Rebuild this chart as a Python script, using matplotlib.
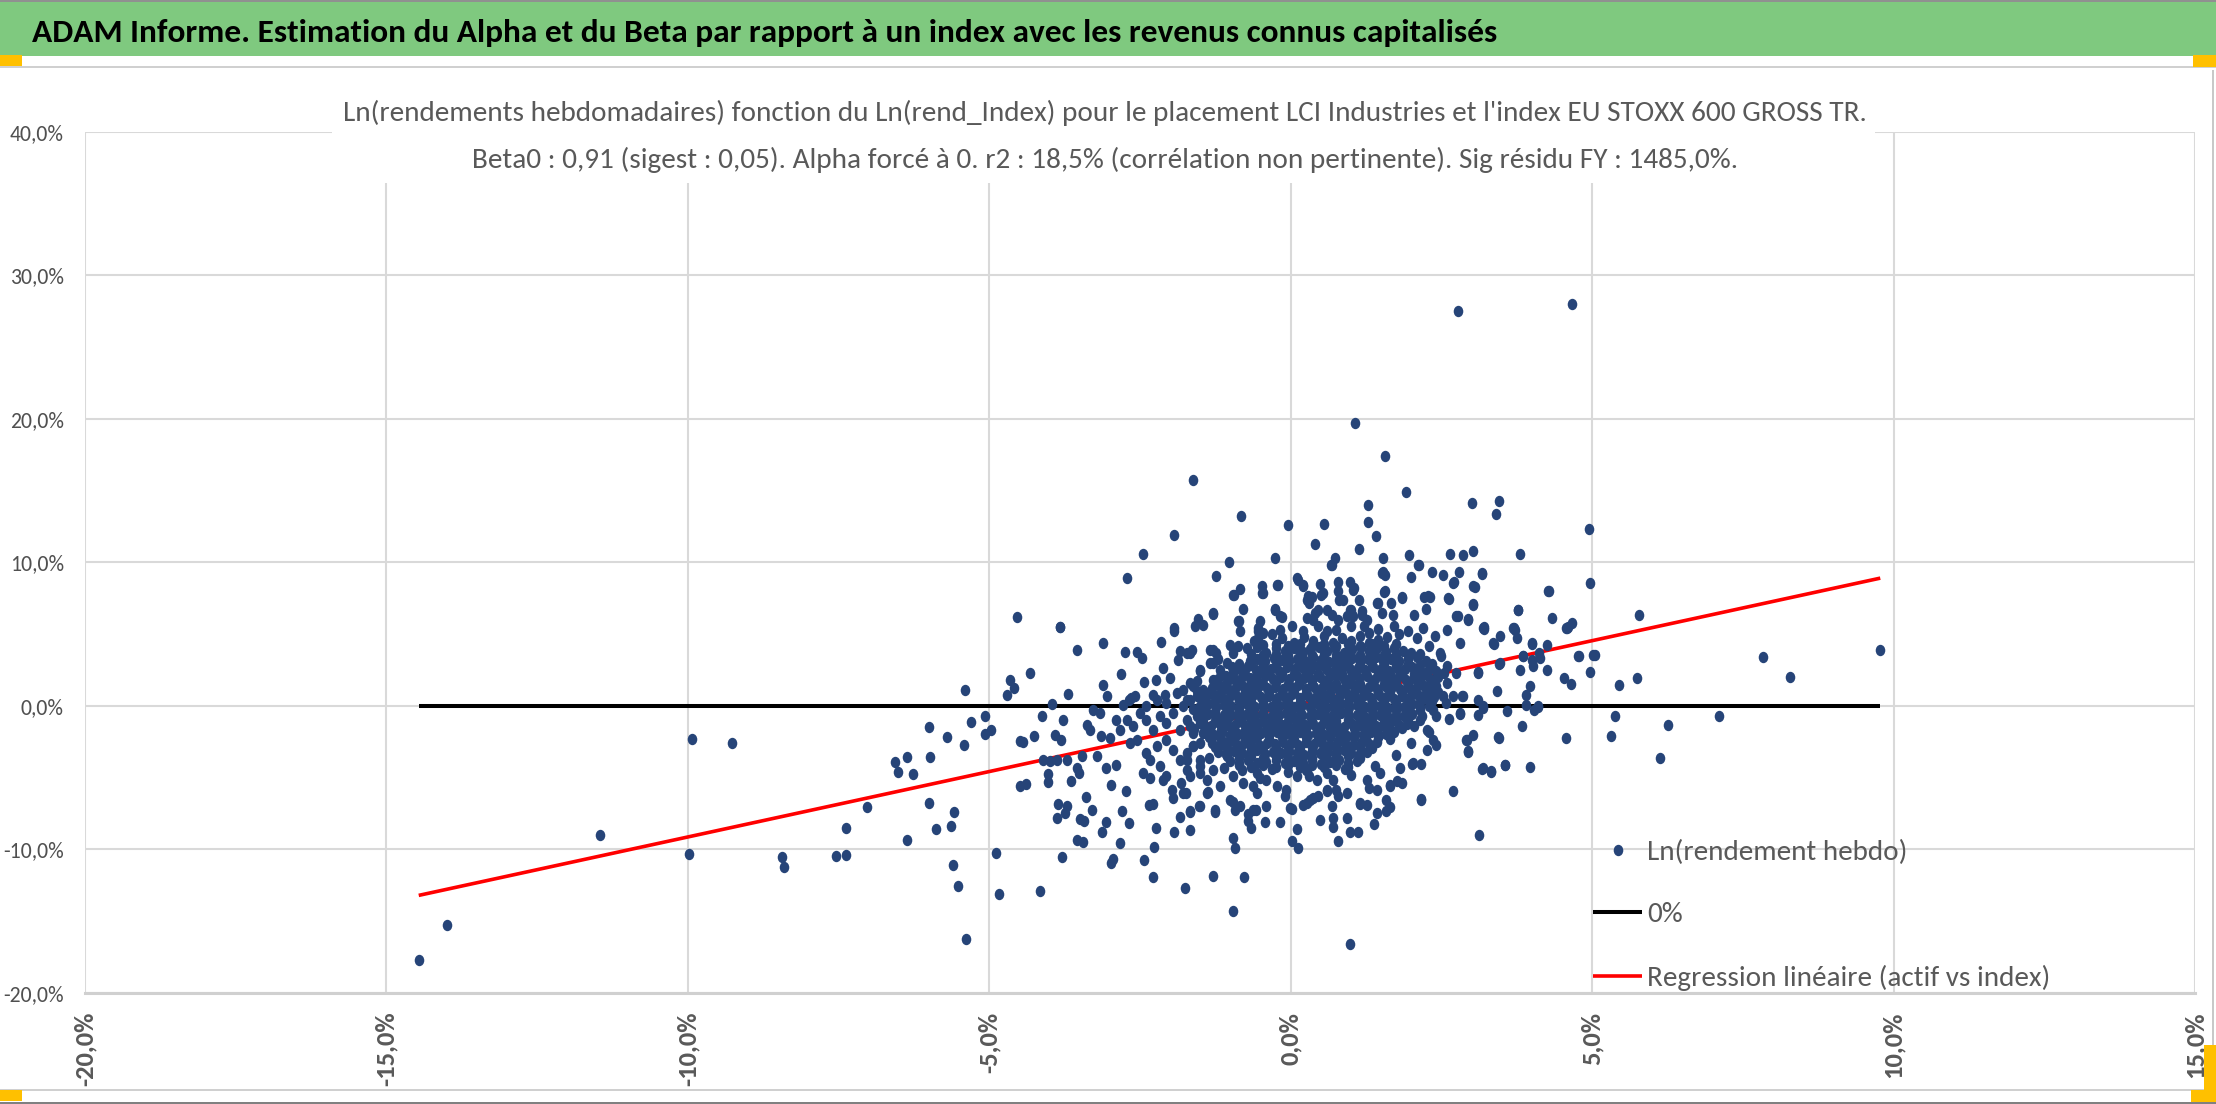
import numpy as np
import matplotlib
matplotlib.use('Agg')
from matplotlib import pyplot as plt
from matplotlib import font_manager as fm
from matplotlib.patches import Rectangle
from matplotlib.lines import Line2D
from matplotlib.path import Path
from matplotlib.transforms import Affine2D
from matplotlib.ticker import FuncFormatter, MultipleLocator

# ---- texts ----
header = "ADAM Informe. Estimation du Alpha et du Beta par rapport à un index avec les revenus connus capitalisés"
title1 = "Ln(rendements hebdomadaires) fonction du Ln(rend_Index) pour le placement LCI Industries et l'index EU STOXX 600 GROSS TR."
title2 = "Beta0 : 0,91 (sigest : 0,05). Alpha forcé à 0. r2 : 18,5% (corrélation non pertinente). Sig résidu FY : 1485,0%."
legend_labels = ["Ln(rendement hebdo)", "0%", "Regression linéaire (actif vs index)"]

# ---- series (x = Ln(rend_Index) %, y = Ln(rendement hebdo) %) ----
zero_x = [-14.46, 9.78]
zero_y = [0.0, 0.0]
reg_x = [-14.46, 9.78]
reg_y = [-13.2, 8.9]

# isolated points, far left / far out
far_pts = [(-14.46,-17.67),(-13.99,-15.28),(-11.45,-8.97),(-9.97,-10.34),(-9.93,-2.28),(-9.27,-2.58),
    (-8.44,-10.55),(-8.40,-11.2),(-7.54,-10.48),(-7.37,-10.41),(-7.37,-8.5),(-7.03,-7.07),(-6.56,-3.89),
    (-6.37,-3.56),(-6.51,-4.6),(-6.27,-4.77),(-6.0,-1.47),(-5.98,-3.56),(-6.0,-6.76),(-6.36,-9.32),
    (-5.88,-8.58),(-5.70,-2.19),(-5.63,-8.34),(-5.59,-7.39),(-5.60,-11.06),(-5.51,-12.57),(-5.39,-16.23),
    (-5.40,1.08),(-5.41,-2.75),(-5.30,-1.1),(-5.07,-0.73),(-5.06,-1.98),(-4.97,-1.68),(-4.88,-10.25),
    (-4.83,-13.1),(-4.65,1.78),(-4.59,1.25),(-4.70,0.78),(-4.53,6.19),(-4.49,-2.47),(-4.49,-5.6),
    (2.77,27.5),(4.67,28.0),(1.07,19.7),(1.56,17.4),(-1.62,15.75),(1.92,14.9),(1.29,14.0),(1.29,12.8),
    (1.41,11.85),(-0.82,13.2),(-1.93,11.9),(-2.44,10.6),(-2.72,8.9),(-3.83,5.5),(-0.04,12.6),(0.55,12.7),
    (0.40,11.3),(1.13,10.9),(0.74,10.3),(0.67,9.8),(-0.26,10.3),(-1.02,10.0),(-1.23,9.07),(3.01,14.15),
    (3.45,14.3),(3.40,13.4),(4.95,12.34),(3.81,10.58),(4.28,8.02),(4.96,8.58),(9.78,3.87),(7.84,3.38),
    (8.28,2.0),(7.11,-0.71),(6.26,-1.36),(6.12,-3.63),(5.74,1.94),(5.44,1.47),(5.38,-0.71),(5.32,-2.12),
    (5.78,6.33),(0.99,-16.56),(-0.96,-14.26),(-1.75,-12.68),(-1.28,-11.87),(-0.78,-11.94),(-2.28,-11.94),
    (-4.15,-12.91),(-3.79,-10.52),(-2.98,-10.94),(-2.95,-10.66),(-2.43,-10.71),(3.12,-8.99)]

# upper half of the cloud
upper_pts = [(1.54,10.3),(1.97,10.5),(2.13,9.8),(2.65,10.6),(2.86,10.5),(3.03,10.8),(1.53,9.3),(1.57,9.1),
    (2.34,9.3),(2.52,9.1),(2.80,9.3),(3.17,9.2),(2.0,9.0),(2.71,8.6),(3.06,8.25),(1.55,7.95),(0.12,8.8),
    (0.2,8.4),(0.49,8.5),(0.78,8.6),(0.98,8.65),(1.05,8.2),(-0.21,8.4),(-0.48,8.37),(-0.46,7.86),(-0.84,8.16),
    (-0.94,7.7),(-0.79,6.75),(-1.29,6.4),(-0.26,6.75),(-0.15,6.2),(-0.51,5.93),(-0.86,5.93),(-1.53,6.07),
    (-1.59,5.6),(-1.46,5.65),(-1.93,5.4),(1.85,7.56),(2.22,7.56),(2.31,7.6),(2.63,7.47),(3.03,7.1),(2.25,6.75),
    (2.04,6.35),(2.77,6.28),(2.95,6.05),(1.67,7.17),(1.44,7.17),(1.51,6.5),(1.70,6.35),(1.13,7.4),(0.78,7.97),
    (0.81,7.4),(0.51,7.7),(0.35,7.6),(0.28,7.4),(0.31,7.17),(0.46,6.7),(0.40,6.47),(0.6,6.7),(0.68,6.35),
    (0.79,6.0),(0.98,6.7),(1.04,6.23),(0.93,6.23),(1.18,6.35),(1.26,6.0),(0.27,6.12),(0.37,6.0),
    (0.1,8.9),(0.21,8.32),(0.29,7.63),(0.68,9.83),(0.54,7.86),(0.87,7.4),(1.04,8.09),(1.01,6.7),(1.18,6.58),
    (1.51,9.25),(1.56,7.97),(1.45,7.17),(1.84,7.51),(2.12,9.83),(2.28,7.63),(2.61,7.51),(2.7,8.56),
    (3.03,8.32),(3.17,9.25),(3.03,7.05),(-0.23,8.44),(-0.48,7.86),(-0.95,7.74),(-1.28,6.47),(-0.87,5.89),
    (-0.84,5.19),(-0.54,5.19),(-0.18,6.23),(-0.18,5.31),(-0.26,6.7),(-0.54,5.42),(-0.45,5.07),(0.03,5.54),
    (1.22,5.6),(1.45,5.35),(1.72,5.55),(1.95,5.2),(2.2,5.45),(2.4,4.9),(2.6,5.3),(2.1,4.7),(0.45,5.6),
    (0.75,5.3),(1.0,5.6),(0.2,5.2),(2.75,6.23),(2.95,6.0),(3.19,5.42),(3.69,5.42),(3.77,6.7),(4.27,7.97),
    (4.33,6.12),(4.58,5.42),(4.66,5.77),(3.77,6.65),(3.2,5.5),(3.71,5.42),(4.6,5.5),(4.57,5.42)]

# right of the cloud
right_pts = [(5.05,3.56),(4.96,2.36),(4.79,3.49),(4.56,-2.21),(4.53,1.94),(4.65,1.55),(4.26,4.26),
    (4.26,2.52),(4.12,3.68),(4.13,3.33),(4.01,4.33),(4.01,3.22),(4.02,2.75),(3.85,3.5),(3.80,2.52),(3.97,1.36),
    (3.91,0.78),(3.91,0.08),(4.10,-0.08),(4.03,-0.31),(3.83,-1.43),(3.97,-4.28),(3.56,-4.14),(3.32,-4.63),
    (3.19,-4.35),(3.46,-2.21),(3.59,-0.38),(3.42,1.06),(3.46,2.92),(3.11,2.36),(3.11,0.43),(3.11,-0.66),
    (3.19,-0.15),(2.95,-3.24),(2.91,-2.36),(3.03,-2.0),(2.70,-5.95),(2.85,0.66),(2.69,0.66),(2.81,-0.54),
    (3.38,4.33),(3.47,4.84),(3.72,5.3),(3.76,4.73),(3.21,5.38),(3.36,4.38),(4.0,4.38),(3.86,3.45),(4.77,3.45),
    (5.02,3.57),(3.47,2.99),(3.11,2.29),(2.86,0.66),(4.11,-0.03),(2.81,-0.5),(3.19,0.0),(2.92,-2.35),
    (2.95,-3.17),(3.33,-4.56),(3.55,-4.1),(2.17,-6.49),(2.42,-2.7),(2.26,-3.05),(2.03,-3.98),(1.81,-4.33),
    (2.48,3.68),(2.59,2.75),(2.42,1.36),(2.53,0.66),(2.36,-0.26),(2.42,-0.73),(2.26,-1.66),(2.36,-2.35),
    (2.75,2.29),(2.81,4.38),(3.18,-4.37),(3.44,-2.19),(2.02,-4.02),(2.17,-4.02),(2.17,-6.53)]

# lower half of the cloud
lower_pts = [(-2.26,-9.83),(-2.24,-8.53),(-1.93,-8.76),(-1.66,-8.64),(-2.83,-9.55),(-3.13,-8.81),(-3.06,-8.06),
    (-3.54,-9.32),(-3.44,-9.5),(-3.49,-7.88),(-3.42,-8.04),(-3.88,-7.79),(-3.85,-6.81),(-3.71,-6.95),
    (-3.74,-7.46),(-3.39,-6.35),(-3.3,-7.23),(-2.79,-7.3),(-2.68,-8.18),(-2.73,-5.95),(-2.98,-5.49),
    (-2.35,-6.9),(-2.29,-6.81),(-1.83,-7.74),(-1.67,-7.42),(-1.52,-6.95),(-1.26,-7.39),(-0.96,-9.18),
    (-0.92,-9.9),(-0.96,-6.72),(-0.93,-7.23),(-0.71,-7.53),(-0.70,-8.04),(-0.66,-8.5),(-0.58,-7.23),
    (-0.42,-8.11),(-0.17,-8.09),(0.03,-7.16),(0.1,-8.58),(0.02,-9.41),(0.12,-9.9),(0.49,-7.93),(0.70,-7.81),
    (0.70,-8.46),(0.79,-9.39),(0.93,-7.81),(0.98,-8.81),(1.12,-8.81),(1.38,-8.25),(1.43,-7.46),(1.59,-7.35),
    (1.65,-7.04),(1.15,-6.81),(1.84,-5.37),(1.65,-5.53),(1.30,-5.72),(0.21,-6.88),(0.32,-6.53),(0.46,-6.3),
    (0.60,-5.95),(0.71,-5.14),(0.78,-6.3),(-0.09,-6.3),(-0.56,-6.07),(-1.37,-6.02),(-1.95,-6.41),(-1.97,-5.84),
    (-1.73,-6.07),(-1.81,-5.37),(-2.11,-5.14),(-2.06,-4.91),(-2.44,-4.67),(-2.33,-5.02),(1.59,-6.53),
    (1.26,-6.88),(1.15,-6.76),(0.68,-7.0),(0.37,-6.41),(0.27,-6.76),(-0.01,-7.11),(-0.4,-7.0),(-0.62,-7.23),
    (-0.84,-7.0),(-1.01,-6.53),(-1.26,-7.23),(-1.5,-7.0),(-1.67,-7.35),(1.65,-5.6),(1.43,-5.84),(1.26,-5.14),
    (1.48,-4.67),(0.93,-6.07),(0.76,-5.84),(0.6,-5.84),(1.76,-5.26),(-1.39,-6.07),(-1.78,-6.07),
    (-1.39,-5.14),(-1.17,-5.6),(-0.95,-4.91),(-0.79,-5.37),(-0.62,-5.6),(-0.4,-5.14),(-0.23,-5.6),
    (-0.07,-5.84),(0.1,-4.91),(0.27,-4.44),(0.43,-5.14)]

# left of the cloud
left_pts = [(-3.64,-5.26),(-4.02,-5.33),(-4.02,-4.72),(-4.39,-5.47),(-3.51,-4.67),(-3.55,-4.33),(-4.1,-3.8),
    (-3.99,-3.86),(-3.88,-3.75),(-3.71,-3.8),(-3.46,-3.51),(-3.21,-3.51),(-3.06,-4.33),(-2.9,-4.09),
    (-4.43,-2.54),(-4.26,-2.08),(-3.91,-2.0),(-3.81,-2.36),(-3.78,-0.96),(-4.12,-0.68),(-3.69,0.85),
    (-3.95,0.15),(-3.37,-1.33),(-3.15,-2.08),(-3.0,-2.24),(-4.32,2.29),(-3.54,3.87),(-3.11,4.35),(-2.75,3.78),
    (-2.55,3.75),(-2.47,3.33),(-2.15,4.42),(-1.93,5.19),(-2.82,2.22),(-3.11,1.48),(-3.05,0.71),(-2.43,1.64),
    (-2.23,1.82),(-2.11,2.64),(-2.0,1.94),(-2.08,0.78),(-2.28,0.78),(-2.68,0.43),(-2.58,0.71),(-1.84,3.8),
    (-1.67,3.68),(-1.86,3.22),(-1.50,2.4),(-1.78,1.13),(-1.67,1.59),(-1.56,1.01),(-1.45,0.66),(-1.34,3.91),
    (-1.23,3.68),(-1.28,2.99),(-1.01,4.26),(-0.87,4.14),(-0.73,4.03),(-0.54,4.73),(-3.83,5.49),
    (-2.72,-0.96),(-2.61,-1.43),(-2.5,-0.5),(-2.39,-0.96),(-2.28,-1.66),(-2.17,-0.73),(-2.06,-1.19),
    (-1.95,-0.5),(-1.84,-1.66),(-1.72,-0.96),(-1.62,-1.89),(-1.5,-1.19),(-2.67,-2.58),(-2.55,-2.35),
    (-2.39,-3.28),(-2.22,-2.82),(-2.06,-2.35),(-1.95,-3.05),(-1.84,-3.75),(-1.72,-3.28),(-1.62,-2.82),
    (-1.5,-3.75),(-2.33,-3.75),(-2.17,-4.21),(-1.72,-4.44),(-1.5,-4.67),(-1.28,-4.44),(-2.78,0.08),
    (-2.64,0.55),(-2.39,-0.03),(-2.22,0.43),(-2.06,0.2),(-1.89,0.9),(-1.72,0.43),(-1.56,0.66),(-1.39,0.9),
    (-1.28,1.82),(-1.17,2.52),(-1.06,2.99),(-0.95,3.68),(-3.27,-0.26),(-3.16,-0.5),(-3.33,-1.66),
    (-2.89,-0.96),(-2.83,-1.66),(-1.72,3.68),(-1.64,3.91),(-1.5,2.52),(-1.62,1.36),(-1.45,1.13),(-1.67,0.43),
    (-1.78,-0.03),(-1.56,-0.73),(-1.67,-1.43),(-1.45,-1.89),(-1.62,-2.82),(-1.72,-3.75),(-1.5,-4.21),
    (-1.67,-4.91),(-1.28,3.91),(-1.34,2.99)]

# ragged rim of the dense core
rim_pts = [(2.6,1.6),(2.58,0.2),(2.62,-0.9),(2.55,2.3),(2.5,3.5),(2.3,4.2),(1.8,5.0),(1.3,5.1),(0.6,5.2),
    (-0.3,5.0),(-0.6,4.5),(-1.2,3.3),(-1.55,1.7),(-1.62,-0.2),(-1.6,-1.6),(-1.5,-2.6),(-1.35,-3.6),
    (-1.1,-4.3),(-0.5,-5.0),(0.3,-4.9),(1.0,-4.8),(1.4,-4.2),(1.75,-3.4),(2.0,-2.6),(2.3,-1.8)]

# dense core (estimated, too dense to read point by point)
core_pts = [(-0.15,4.7),(0.05,4.4),(0.22,4.8),(0.38,4.5),(0.55,4.9),(0.7,4.4),(0.86,4.7),(1.0,4.5),
    (1.15,4.85),(1.3,4.4),(1.45,4.6),(1.6,4.8),
    (-0.55,4.1),(-0.4,3.7),(-0.25,4.0),(-0.1,3.8),(0.05,4.05),(0.2,3.75),(0.33,3.95),(0.47,4.1),
    (0.6,3.8),(0.74,4.0),(0.88,3.7),(1.02,3.95),(1.16,4.1),(1.3,3.8),(1.44,4.0),(1.58,3.75),(1.72,4.05),
    (1.87,3.85),(2.0,3.7),
    (-0.68,3.1),(-0.55,3.3),(-0.42,3.15),(-0.28,3.35),(-0.15,3.2),(-0.02,3.1),
    (0.11,3.3),(0.24,3.15),(0.37,3.4),(0.5,3.2),(0.63,3.05),(0.76,3.3),(0.89,3.2),(1.02,3.35),(1.15,3.1),
    (1.28,3.25),(1.41,3.4),(1.54,3.15),(1.67,3.3),(1.8,3.1),(1.95,3.25),(2.1,3.4),(2.25,3.15),
    (-0.97,2.7),(-0.84,2.55),(-0.71,2.75),(-0.58,2.5),(-0.45,2.65),(-0.32,2.6),(-0.19,2.45),
    (-0.06,2.7),(0.07,2.55),(0.2,2.65),(0.33,2.5),(0.46,2.75),(0.59,2.6),(0.72,2.45),(0.85,2.7),(0.98,2.55),
    (1.11,2.65),(1.24,2.5),(1.37,2.7),(1.5,2.6),(1.63,2.45),(1.76,2.65),(1.89,2.55),(2.02,2.7),(2.15,2.5),
    (2.3,2.6),(2.42,2.45),
    (-1.2,1.9),(-1.07,2.05),(-0.94,1.85),(-0.81,2.0),(-0.68,1.95),(-0.55,1.8),(-0.42,2.05),(-0.29,1.9),
    (-0.16,2.0),(-0.03,1.85),(0.1,2.1),(0.23,1.95),(0.36,1.8),(0.49,2.0),(0.62,1.9),(0.75,2.05),(0.88,1.85),
    (1.01,2.0),(1.14,1.95),(1.27,2.1),(1.4,1.85),(1.53,2.0),(1.66,1.9),(1.79,2.05),(1.92,1.8),(2.05,1.95),
    (2.18,2.1),(2.32,1.9),(2.45,2.0),
    (-1.3,1.25),(-1.17,1.4),(-1.04,1.2),(-0.91,1.35),(-0.78,1.3),(-0.65,1.15),(-0.52,1.4),(-0.39,1.25),
    (-0.26,1.35),(-0.13,1.2),(0.0,1.3),(0.13,1.45),(0.26,1.2),(0.39,1.35),(0.52,1.25),(0.65,1.4),(0.78,1.15),
    (0.91,1.3),(1.04,1.45),(1.17,1.25),(1.3,1.35),(1.43,1.2),(1.56,1.4),(1.69,1.3),(1.82,1.15),(1.95,1.35),
    (2.08,1.25),(2.21,1.4),(2.35,1.2),
    (-1.4,0.6),(-1.27,0.75),(-1.14,0.55),(-1.01,0.7),(-0.88,0.65),(-0.75,0.5),(-0.62,0.75),(-0.49,0.6),
    (-0.36,0.7),(-0.23,0.55),(-0.1,0.65),(0.03,0.8),(0.16,0.55),(0.29,0.7),(0.42,0.6),(0.55,0.75),(0.68,0.5),
    (0.81,0.65),(0.94,0.8),(1.07,0.6),(1.2,0.7),(1.33,0.55),(1.46,0.75),(1.59,0.65),(1.72,0.5),(1.85,0.7),
    (1.98,0.6),(2.11,0.75),(2.25,0.55),(2.38,0.65),
    (-1.5,0.0),(-1.37,0.1),(-1.24,-0.1),(-1.11,0.05),(-0.98,0.0),(-0.85,-0.15),(-0.72,0.1),(-0.59,-0.05),
    (-0.46,0.05),(-0.33,-0.1),(-0.2,0.0),(-0.07,0.15),(0.06,-0.1),(0.19,0.05),(0.32,-0.05),(0.45,0.1),
    (0.58,-0.15),(0.71,0.0),(0.84,0.15),(0.97,-0.05),(1.1,0.05),(1.23,-0.1),(1.36,0.1),(1.49,0.0),
    (1.62,-0.15),(1.75,0.05),(1.88,-0.05),(2.01,0.1),(2.15,-0.1),(2.3,0.0),
    (-1.5,-0.7),(-1.37,-0.55),(-1.24,-0.75),(-1.11,-0.6),(-0.98,-0.65),(-0.85,-0.8),(-0.72,-0.55),
    (-0.59,-0.7),(-0.46,-0.6),(-0.33,-0.75),(-0.2,-0.65),(-0.07,-0.5),(0.06,-0.75),(0.19,-0.6),(0.32,-0.7),
    (0.45,-0.55),(0.58,-0.8),(0.71,-0.65),(0.84,-0.5),(0.97,-0.7),(1.1,-0.6),(1.23,-0.75),(1.36,-0.55),
    (1.49,-0.65),(1.62,-0.8),(1.75,-0.6),(1.88,-0.7),(2.02,-0.55),(2.18,-0.7),
    (-1.45,-1.25),(-1.32,-1.4),(-1.19,-1.2),(-1.06,-1.35),(-0.93,-1.3),(-0.8,-1.15),(-0.67,-1.4),
    (-0.54,-1.25),(-0.41,-1.35),(-0.28,-1.2),(-0.15,-1.3),(-0.02,-1.45),(0.11,-1.2),(0.24,-1.35),
    (0.37,-1.25),(0.5,-1.4),(0.63,-1.15),(0.76,-1.3),(0.89,-1.45),(1.02,-1.25),(1.15,-1.35),(1.28,-1.2),
    (1.41,-1.4),(1.54,-1.3),(1.67,-1.15),(1.8,-1.35),(1.93,-1.25),(2.05,-1.4),
    (-1.4,-1.9),(-1.27,-2.05),(-1.14,-1.85),(-1.01,-2.0),(-0.88,-1.95),(-0.75,-1.8),(-0.62,-2.05),
    (-0.49,-1.9),(-0.36,-2.0),(-0.23,-1.85),(-0.1,-1.95),(0.03,-2.1),(0.16,-1.85),(0.29,-2.0),(0.42,-1.9),
    (0.55,-2.05),(0.68,-1.8),(0.81,-1.95),(0.94,-2.1),(1.07,-1.9),(1.2,-2.0),(1.33,-1.85),(1.46,-2.05),
    (1.59,-1.95),(1.72,-1.8),
    (-1.3,-2.55),(-1.17,-2.7),(-1.04,-2.5),(-0.91,-2.65),(-0.78,-2.6),(-0.65,-2.45),(-0.52,-2.7),
    (-0.39,-2.55),(-0.26,-2.65),(-0.13,-2.5),(0.0,-2.6),(0.13,-2.75),(0.26,-2.5),(0.39,-2.65),(0.52,-2.55),
    (0.65,-2.7),(0.78,-2.45),(0.91,-2.6),(1.04,-2.75),(1.17,-2.55),(1.3,-2.65),(1.43,-2.5),
    (-1.2,-3.2),(-1.07,-3.35),(-0.94,-3.15),(-0.81,-3.3),(-0.68,-3.25),(-0.55,-3.1),(-0.42,-3.35),
    (-0.29,-3.2),(-0.16,-3.3),(-0.03,-3.15),(0.1,-3.25),(0.23,-3.4),(0.36,-3.15),(0.49,-3.3),(0.62,-3.2),
    (0.75,-3.35),(0.88,-3.1),(1.01,-3.25),(1.14,-3.4),(1.27,-3.2),
    (-1.0,-3.85),(-0.85,-4.0),(-0.7,-3.8),(-0.55,-3.95),(-0.4,-3.9),(-0.25,-3.75),(-0.1,-4.0),(0.05,-3.85),
    (0.2,-3.95),(0.35,-3.8),(0.5,-4.05),(0.65,-3.9),(0.8,-3.75),(0.95,-4.0),(1.1,-3.85),
    (-0.8,-4.5),(-0.55,-4.7),(-0.3,-4.4),(-0.05,-4.6),(0.25,-4.45),(0.6,-4.65),(0.9,-4.4)]

# second, staggered layer of the core (fills the gaps of the blob)
core_fill_pts = [(-0.45,4.25),(-0.25,4.3),(-0.05,4.2),(0.15,4.3),(0.35,4.2),(0.55,4.3),(0.75,4.2),
    (0.95,4.3),(1.15,4.2),(1.35,4.3),(1.55,4.2),(1.75,4.3),
    (-0.65,3.65),(-0.45,3.55),(-0.25,3.65),(-0.05,3.55),(0.15,3.65),(0.35,3.55),(0.55,3.65),
    (0.75,3.55),(0.95,3.65),(1.15,3.55),(1.35,3.65),(1.55,3.55),(1.75,3.65),(1.95,3.55),(2.15,3.65),
    (-0.85,2.95),(-0.65,2.85),(-0.45,2.95),(-0.25,2.85),(-0.05,2.95),(0.15,2.85),(0.35,2.95),
    (0.55,2.85),(0.75,2.95),(0.95,2.85),(1.15,2.95),(1.35,2.85),(1.55,2.95),(1.75,2.85),(1.95,2.95),
    (2.15,2.85),(2.35,2.95),
    (-1.15,2.2),(-0.95,2.3),(-0.75,2.2),(-0.55,2.3),(-0.35,2.2),(-0.15,2.3),(0.05,2.2),(0.25,2.3),(0.45,2.2),
    (0.65,2.3),(0.85,2.2),(1.05,2.3),(1.25,2.2),(1.45,2.3),(1.65,2.2),(1.85,2.3),(2.05,2.2),(2.25,2.3),
    (2.45,2.2),
    (-1.25,1.55),(-1.05,1.65),(-0.85,1.55),(-0.65,1.65),(-0.45,1.55),(-0.25,1.65),(-0.05,1.55),(0.15,1.65),
    (0.35,1.55),(0.55,1.65),(0.75,1.55),(0.95,1.65),(1.15,1.55),(1.35,1.65),(1.55,1.55),(1.75,1.65),
    (1.95,1.55),(2.15,1.65),(2.35,1.55),
    (-1.35,0.9),(-1.15,1.0),(-0.95,0.9),(-0.75,1.0),(-0.55,0.9),(-0.35,1.0),(-0.15,0.9),(0.05,1.0),(0.25,0.9),
    (0.45,1.0),(0.65,0.9),(0.85,1.0),(1.05,0.9),(1.25,1.0),(1.45,0.9),(1.65,1.0),(1.85,0.9),(2.05,1.0),
    (2.25,0.9),(2.45,1.0),
    (-1.45,0.25),(-1.25,0.35),(-1.05,0.25),(-0.85,0.35),(-0.65,0.25),(-0.45,0.35),(-0.25,0.25),(-0.05,0.35),
    (0.15,0.25),(0.35,0.35),(0.55,0.25),(0.75,0.35),(0.95,0.25),(1.15,0.35),(1.35,0.25),(1.55,0.35),
    (1.75,0.25),(1.95,0.35),(2.15,0.25),(2.35,0.35),
    (-1.45,-0.3),(-1.25,-0.4),(-1.05,-0.3),(-0.85,-0.4),(-0.65,-0.3),(-0.45,-0.4),(-0.25,-0.3),(-0.05,-0.4),
    (0.15,-0.3),(0.35,-0.4),(0.55,-0.3),(0.75,-0.4),(0.95,-0.3),(1.15,-0.4),(1.35,-0.3),(1.55,-0.4),
    (1.75,-0.3),(1.95,-0.4),(2.15,-0.3),
    (-1.45,-0.95),(-1.25,-1.05),(-1.05,-0.95),(-0.85,-1.05),(-0.65,-0.95),(-0.45,-1.05),(-0.25,-0.95),
    (-0.05,-1.05),(0.15,-0.95),(0.35,-1.05),(0.55,-0.95),(0.75,-1.05),(0.95,-0.95),(1.15,-1.05),(1.35,-0.95),
    (1.55,-1.05),(1.75,-0.95),(1.95,-1.05),(2.15,-0.95),
    (-1.35,-1.55),(-1.15,-1.65),(-0.95,-1.55),(-0.75,-1.65),(-0.55,-1.55),(-0.35,-1.65),(-0.15,-1.55),
    (0.05,-1.65),(0.25,-1.55),(0.45,-1.65),(0.65,-1.55),(0.85,-1.65),(1.05,-1.55),(1.25,-1.65),(1.45,-1.55),
    (1.65,-1.65),(1.85,-1.55),
    (-1.35,-2.2),(-1.15,-2.3),(-0.95,-2.2),(-0.75,-2.3),(-0.55,-2.2),(-0.35,-2.3),(-0.15,-2.2),(0.05,-2.3),
    (0.25,-2.2),(0.45,-2.3),(0.65,-2.2),(0.85,-2.3),(1.05,-2.2),(1.25,-2.3),(1.45,-2.2),(1.65,-2.3),
    (-1.25,-2.85),(-1.05,-2.95),(-0.85,-2.85),(-0.65,-2.95),(-0.45,-2.85),(-0.25,-2.95),(-0.05,-2.85),
    (0.15,-2.95),(0.35,-2.85),(0.55,-2.95),(0.75,-2.85),(0.95,-2.95),(1.15,-2.85),(1.35,-2.95),
    (-1.05,-3.5),(-0.85,-3.6),(-0.65,-3.5),(-0.45,-3.6),(-0.25,-3.5),(-0.05,-3.6),(0.15,-3.5),(0.35,-3.6),
    (0.55,-3.5),(0.75,-3.6),(0.95,-3.5),(1.15,-3.6),
    (-0.85,-4.15),(-0.65,-4.25),(-0.45,-4.15),(-0.25,-4.25),(-0.05,-4.15),(0.15,-4.25),(0.35,-4.15),
    (0.55,-4.25),(0.75,-4.15),(0.95,-4.25)]

# ---- layout helpers (pixels of the 2216x1104 picture) ----
W, H, DPI = 2216, 1104, 100


def fx(px):
    return px / W


def fy(py):
    return 1 - py / H


def pick_font(*names):
    for n in names:
        try:
            fm.findfont(fm.FontProperties(family=n), fallback_to_default=False)
            return n
        except ValueError:
            pass
    return 'DejaVu Sans'


FONT = pick_font('Carlito', 'Lato', 'Liberation Sans Narrow', 'Open Sans')
plt.rcParams['font.family'] = [FONT, 'DejaVu Sans']

GREY_TXT = '#595959'
GRID = '#d9d9d9'
NAVY = '#264478'

fig = plt.figure(figsize=(W / DPI, H / DPI), dpi=DPI)
renderer = fig.canvas.get_renderer()


def text_box(text, size, weight='normal'):
    t = fig.text(0, 0, text, fontsize=size, weight=weight)
    bb = t.get_window_extent(renderer=renderer)
    t.remove()
    return bb.width, bb.height


def fit_size(text, target_px, weight='normal'):
    w, _ = text_box(text, 20, weight)
    return 20 * target_px / w


# ---- frame decorations ----
fig.add_artist(Rectangle((0, fy(56)), 1, 56 / H, transform=fig.transFigure,
                         facecolor='#7fc97f', edgecolor='none', zorder=1))
fig.add_artist(Rectangle((0, fy(68)), 1, 2.5 / H, transform=fig.transFigure,
                         facecolor='#d0d0d0', edgecolor='none', zorder=1))
fig.add_artist(Rectangle((0, fy(1091)), 1, 2.5 / H, transform=fig.transFigure,
                         facecolor='#d0d0d0', edgecolor='none', zorder=1))
fig.add_artist(Rectangle((0, fy(1104)), 1, 2 / H, transform=fig.transFigure,
                         facecolor='#808080', edgecolor='none', zorder=1))
fig.add_artist(Rectangle((0, fy(2)), 1, 2 / H, transform=fig.transFigure,
                         facecolor='#909090', edgecolor='none', zorder=1))
fig.add_artist(Rectangle((fx(2212), fy(1091)), 2 / W, (1091 - 70) / H, transform=fig.transFigure,
                         facecolor='#c8c8c8', edgecolor='none', zorder=1))
# orange selection handles
for (x0, y0, w0, h0) in [(0, 55, 22, 11), (2193, 55, 23, 12), (0, 1090, 22, 11),
                         (2204, 1045, 12, 57), (2191, 1090, 25, 12)]:
    fig.add_artist(Rectangle((fx(x0), fy(y0 + h0)), w0 / W, h0 / H, transform=fig.transFigure,
                             facecolor='#ffc000', edgecolor='none', zorder=1))

hs = fit_size(header, 1465, 'bold')
fig.text(fx(32), fy(42), header, fontsize=hs, weight='bold', color='black',
         ha='left', va='baseline', zorder=3)

# ---- axes ----
ax = fig.add_axes([fx(84.7), fy(993), (2195 - 84.7) / W, (993 - 131.7) / H])
ax.set_xlim(-20, 15)
ax.set_ylim(-20, 40)
ax.xaxis.set_major_locator(MultipleLocator(5))
ax.yaxis.set_major_locator(MultipleLocator(10))
pct = FuncFormatter(lambda v, p: ('%.1f%%' % v).replace('.', ','))
ax.xaxis.set_major_formatter(pct)
ax.yaxis.set_major_formatter(pct)
ax.grid(True, color=GRID, linewidth=1.5)
ax.set_axisbelow(True)
for s in ['top', 'right', 'left']:
    ax.spines[s].set_visible(False)
ax.spines['bottom'].set_color('#d0d0d0')
ax.spines['bottom'].set_linewidth(2.2)

ys = fit_size('30,0%', 54)
xs = fit_size('-20,0%', 75, 'bold')
ax.tick_params(axis='y', length=0, pad=15.0, labelsize=ys, labelcolor='#505050')
ax.tick_params(axis='x', length=0, pad=13.5, labelsize=xs, labelcolor=GREY_TXT,
               labelrotation=90)
for lab in ax.get_xticklabels():
    lab.set_fontweight('bold')

ell = Path.unit_circle().transformed(Affine2D().scale(0.84, 1.0))
pts = np.array(far_pts + upper_pts + right_pts + lower_pts + left_pts + rim_pts
               + core_pts + core_fill_pts)

ln_zero, = ax.plot(zero_x, zero_y, color='black', linewidth=2.9, solid_capstyle='butt', zorder=2)
ln_reg, = ax.plot(reg_x, reg_y, color='#ff0000', linewidth=2.6, solid_capstyle='butt', zorder=2)
sc, = ax.plot(pts[:, 0], pts[:, 1], linestyle='none', marker=ell, markersize=8.2,
              markerfacecolor=NAVY, markeredgewidth=0, zorder=3)

# ---- chart title (white box over the plot area) ----
fig.add_artist(Rectangle((fx(332), fy(183)), (1875 - 332) / W, (183 - 72) / H,
                         transform=fig.transFigure, facecolor='white', edgecolor='none', zorder=1))
ts = fit_size(title1, 1525)
fig.text(fx(1105), fy(121), title1, fontsize=ts, color=GREY_TXT, ha='center', va='baseline', zorder=3)
fig.text(fx(1105), fy(168), title2, fontsize=ts, color=GREY_TXT, ha='center', va='baseline', zorder=3)

# ---- legend ----
ls = fit_size(legend_labels[0], 260)
_, row_h = text_box(legend_labels[0], ls)
fs_px = ls * DPI / 72
h_sc = Line2D([], [], linestyle='none', marker=ell, markersize=8.2,
              markerfacecolor=NAVY, markeredgewidth=0)
ax.legend([h_sc, ln_zero, ln_reg], legend_labels, loc='upper left',
          bbox_to_anchor=(fx(1593), fy(852 - row_h / 2)), bbox_transform=fig.transFigure,
          frameon=False, borderpad=0, borderaxespad=0, fontsize=ls, labelcolor=GREY_TXT,
          handlelength=49 / fs_px, handletextpad=5 / fs_px,
          labelspacing=(62.3 - row_h) / fs_px, numpoints=1)

fig.savefig('out.png', dpi=DPI)
